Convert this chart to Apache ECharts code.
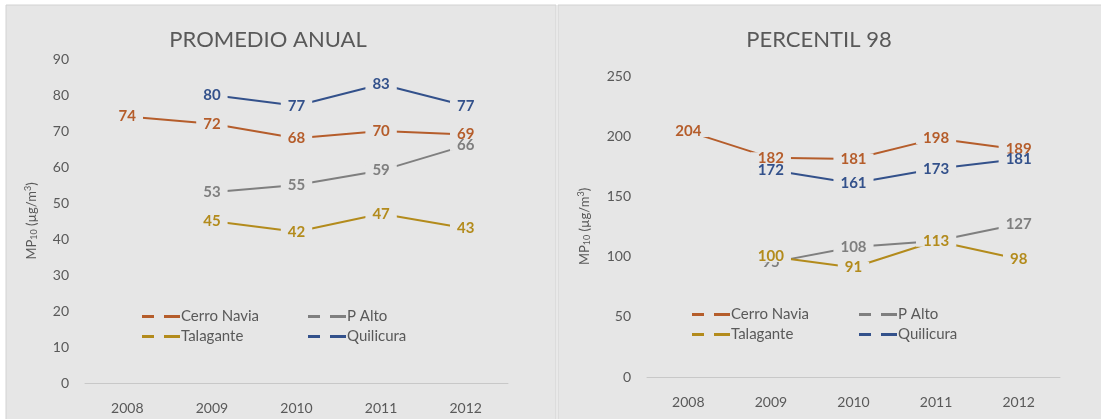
<!DOCTYPE html>
<html>
<head>
<meta charset="utf-8">
<script src="https://cdn.jsdelivr.net/npm/echarts@6/dist/echarts.min.js"></script>
<style>
  html, body { margin: 0; padding: 0; background: #fff; }
  #chart { width: 1101px; height: 419px; }
</style>
</head>
<body>
<div id="chart"></div>
<script>
// datos
var years = ['2008', '2009', '2010', '2011', '2012'];
var names = ['Cerro Navia', 'P Alto', 'Talagante', 'Quilicura'];
var colors = ['#b55d2b', '#7f7f7f', '#b38b1c', '#33518b'];

var anualCerroNavia = [74, 72, 68, 70, 69];
var anualPAlto = [null, 53, 55, 59, 66];
var anualTalagante = [null, 45, 42, 47, 43];
var anualQuilicura = [null, 80, 77, 83, 77];

var p98CerroNavia = [204, 182, 181, 198, 189];
var p98PAlto = [null, 95, 108, 113, 127];
var p98Talagante = [null, 100, 91, 113, 98];
var p98Quilicura = [null, 172, 161, 173, 181];

var panelBg = '#e6e6e6';
var textGray = '#595959';
var font = 'Lato';

var chart = echarts.init(document.getElementById('chart'));

function mkSeries(name, idx, data, axis) {
  return {
    name: name,
    type: 'line',
    xAxisIndex: axis,
    yAxisIndex: axis,
    data: data,
    symbol: 'circle',
    symbolSize: 1,
    color: colors[idx],
    lineStyle: { width: 2, color: colors[idx] },
    label: {
      show: true,
      position: 'inside',
      color: colors[idx],
      fontFamily: font,
      fontWeight: 'bold',
      fontSize: 15,
      lineHeight: 11,
      backgroundColor: panelBg,
      padding: [0, 7]
    },
    emphasis: { disabled: true }
  };
}

var axisName = '{a|MP}{b|10}{a| (µg/m}{c|3}{a|)}';
var axisNameStyle = {
  color: textGray,
  fontFamily: font,
  rich: {
    a: { fontSize: 13, color: textGray, fontFamily: font },
    b: { fontSize: 9, color: textGray, fontFamily: font, padding: [6, 0, 0, 0] },
    c: { fontSize: 9, color: textGray, fontFamily: font, padding: [0, 0, 6, 0] }
  }
};

function xAx(grid) {
  return {
    type: 'category',
    gridIndex: grid,
    data: years,
    boundaryGap: true,
    axisLine: { lineStyle: { color: '#c8c8c8', width: 1 } },
    axisTick: { show: false },
    axisLabel: { color: textGray, fontFamily: font, fontSize: 14, margin: 18 }
  };
}

function yAx(grid, max, interval, gap) {
  return {
    type: 'value',
    gridIndex: grid,
    min: 0,
    max: max,
    interval: interval,
    name: axisName,
    nameLocation: 'middle',
    nameGap: gap,
    nameTextStyle: axisNameStyle,
    axisLine: { show: false },
    axisTick: { show: false },
    splitLine: { show: false },
    axisLabel: { color: textGray, fontFamily: font, fontSize: 14, margin: 16 }
  };
}

var dashIcon = 'path://M0,0H12V3H0Z M22,0H38V3H22Z';
function legend(left, top, data) {
  return {
    orient: 'vertical',
    left: left,
    top: top,
    padding: 0,
    data: data,
    icon: dashIcon,
    itemWidth: 38,
    itemHeight: 3,
    itemGap: 5,
    selectedMode: false,
    textStyle: { color: textGray, fontFamily: font, fontSize: 15, padding: [0, 0, 0, -4] }
  };
}

var option = {
  backgroundColor: '#fff',
  animation: false,
  graphic: [
    { type: 'rect', shape: { x: 6, y: 5, width: 550, height: 430 }, style: { fill: panelBg, stroke: '#d2d2d2', lineWidth: 1 }, z: -10 },
    { type: 'rect', shape: { x: 558, y: 5, width: 560, height: 430 }, style: { fill: panelBg, stroke: '#d2d2d2', lineWidth: 1 }, z: -10 }
  ],
  title: [
    { text: 'PROMEDIO ANUAL', left: 263, top: 24, textAlign: 'center',
      textStyle: { color: textGray, fontFamily: font, fontSize: 22, fontWeight: 'normal' } },
    { text: 'PERCENTIL 98', left: 814, top: 24, textAlign: 'center',
      textStyle: { color: textGray, fontFamily: font, fontSize: 22, fontWeight: 'normal' } }
  ],
  legend: [
    legend(142, 309, ['Cerro Navia', 'Talagante']),
    legend(308, 309, ['P Alto', 'Quilicura']),
    legend(692, 307, ['Cerro Navia', 'Talagante']),
    legend(859, 307, ['P Alto', 'Quilicura'])
  ],
  grid: [
    { left: 85, top: 59, width: 423, height: 324 },
    { left: 647, top: 76, width: 413, height: 301 }
  ],
  xAxis: [xAx(0), xAx(1)],
  yAxis: [yAx(0, 90, 10, 46), yAx(1, 250, 50, 55)],
  series: [
    mkSeries(names[0], 0, anualCerroNavia, 0),
    mkSeries(names[1], 1, anualPAlto, 0),
    mkSeries(names[2], 2, anualTalagante, 0),
    mkSeries(names[3], 3, anualQuilicura, 0),
    mkSeries(names[0], 0, p98CerroNavia, 1),
    mkSeries(names[1], 1, p98PAlto, 1),
    mkSeries(names[2], 2, p98Talagante, 1),
    mkSeries(names[3], 3, p98Quilicura, 1)
  ]
};

chart.setOption(option);
</script>
</body>
</html>
